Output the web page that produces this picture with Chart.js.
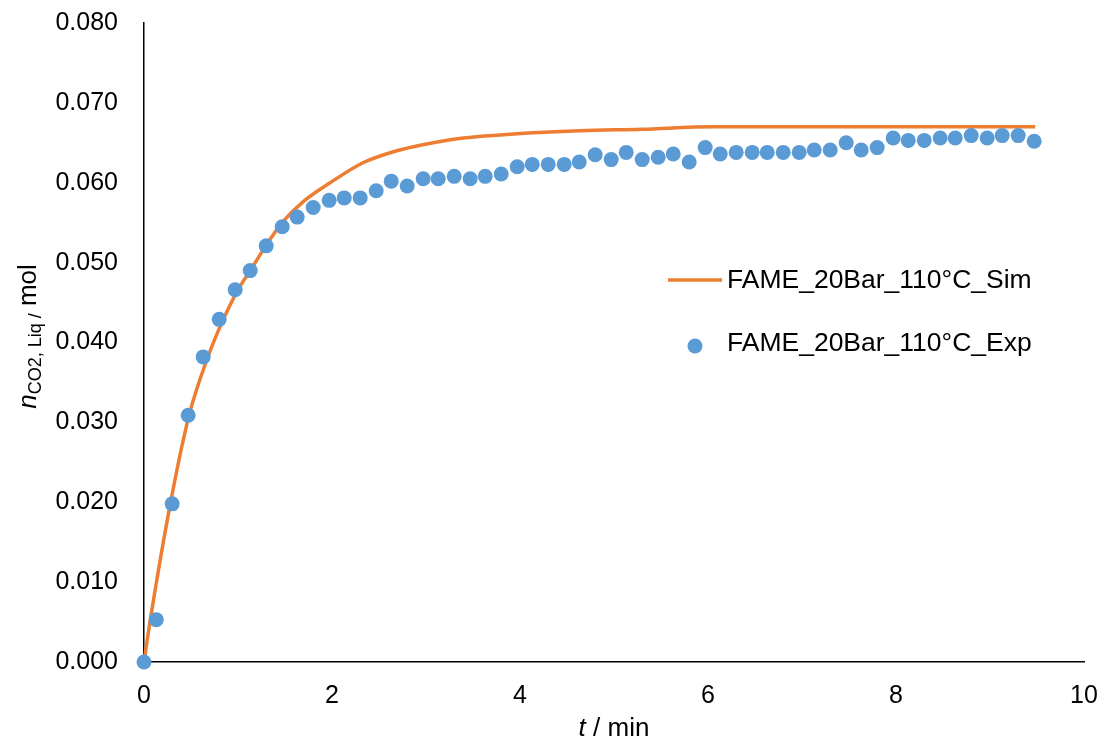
<!DOCTYPE html>
<html>
<head>
<meta charset="utf-8">
<script src="https://cdn.jsdelivr.net/npm/chart.js@4.4.1/dist/chart.umd.min.js"></script>
<style>
  html, body { margin: 0; padding: 0; background: #fff; }
  #wrap { width: 1104px; height: 743px; position: relative; }
</style>
</head>
<body>
<div id="wrap"><canvas id="c" width="1104" height="743"></canvas></div>
<script>
// ---- data ----
const expLabel = 'FAME_20Bar_110°C_Exp';
const simLabel = 'FAME_20Bar_110°C_Sim';

const expTime = [0, 0.13, 0.30, 0.47, 0.63, 0.80, 0.97, 1.13, 1.30, 1.47, 1.63, 1.80, 1.97, 2.13, 2.30, 2.47,
  2.63, 2.80, 2.97, 3.13, 3.30, 3.47, 3.63, 3.80, 3.97, 4.13, 4.30, 4.47, 4.63, 4.80, 4.97, 5.13, 5.30,
  5.47, 5.63, 5.80, 5.97, 6.13, 6.30, 6.47, 6.63, 6.80, 6.97, 7.13, 7.30, 7.47, 7.63, 7.80, 7.97, 8.13,
  8.30, 8.47, 8.63, 8.80, 8.97, 9.13, 9.30, 9.47];
const expMol = [0, 0.0053, 0.0198, 0.0309, 0.0382, 0.0429, 0.0466, 0.0490, 0.0521, 0.0545, 0.0557, 0.0569,
  0.0578, 0.0581, 0.0581, 0.0590, 0.0602, 0.0596, 0.0605, 0.0605, 0.0608, 0.0605, 0.0608, 0.0611, 0.0620,
  0.0623, 0.0623, 0.0623, 0.0626, 0.0635, 0.0629, 0.0638, 0.0629, 0.0632, 0.0636, 0.0626, 0.0644, 0.0636,
  0.0638, 0.0638, 0.0638, 0.0638, 0.0638, 0.0641, 0.0641, 0.0650, 0.0641, 0.0644, 0.0656, 0.0653, 0.0653,
  0.0656, 0.0656, 0.0659, 0.0656, 0.0659, 0.0659, 0.0652];

const simTime = [0, 0.07, 0.28, 0.48, 0.68, 0.84, 1.00, 1.13, 1.29, 1.47, 1.70, 1.98, 2.33, 2.69, 2.94,
  3.40, 3.93, 4.64, 5.30, 6.06, 7.00, 8.00, 9.00, 9.48];
const simMol = [0, 0.0055, 0.0198, 0.0309, 0.0382, 0.0428, 0.0466, 0.0490, 0.0520, 0.0550, 0.0577, 0.0600,
  0.0625, 0.0640, 0.0647, 0.0656, 0.0661, 0.0665, 0.0667, 0.0670, 0.0670, 0.0670, 0.0670, 0.0670];

const xTicks = [0, 2, 4, 6, 8, 10];
const yTicks = [0, 0.01, 0.02, 0.03, 0.04, 0.05, 0.06, 0.07, 0.08];

// ---- styles ----
const FONT = 'Liberation Sans, Arial, Helvetica, sans-serif';
const ORANGE = '#ED7D31';
const BLUE = '#5B9BD5';

const titlesPlugin = {
  id: 'titles',
  afterDraw(chart) {
    const ctx = chart.ctx;
    const a = chart.chartArea;
    ctx.save();
    ctx.fillStyle = '#000';
    ctx.textBaseline = 'alphabetic';
    // x-axis title: italic t + " / min"
    const main = '26px ' + FONT;
    const ital = 'italic 26px ' + FONT;
    ctx.font = ital; const wt = ctx.measureText('t').width;
    ctx.font = main; const wr = ctx.measureText(' / min').width;
    let x0 = (a.left + a.right) / 2 - (wt + wr) / 2;
    ctx.font = ital; ctx.textAlign = 'left'; ctx.fillText('t', x0, 736);
    ctx.font = main; ctx.fillText(' / min', x0 + wt, 736);

    // y-axis title: italic n, subscript "CO2, Liq /", " mol"
    const sub = '18px ' + FONT;
    ctx.font = ital; const wn = ctx.measureText('n').width;
    ctx.font = sub; const ws = ctx.measureText('CO2, Liq /').width;
    ctx.font = main; const wm = ctx.measureText(' mol').width;
    const total = wn + ws + wm;
    ctx.translate(36, (a.top + a.bottom) / 2 - 6);
    ctx.rotate(-Math.PI / 2);
    let p = -total / 2;
    ctx.font = ital; ctx.fillText('n', p, 0); p += wn;
    ctx.font = sub; ctx.fillText('CO2, Liq /', p, 5); p += ws;
    ctx.font = main; ctx.fillText(' mol', p, 0);
    ctx.restore();

    // legend
    ctx.save();
    const leg = '26.5px ' + FONT;
    ctx.font = leg;
    ctx.textAlign = 'left';
    ctx.textBaseline = 'middle';
    ctx.fillStyle = '#000';
    const tx = a.left + 583;
    const y1 = a.top + 257;
    const y2 = a.top + 320;
    ctx.strokeStyle = ORANGE; ctx.lineWidth = 3.5;
    ctx.beginPath(); ctx.moveTo(a.left + 524, y1); ctx.lineTo(a.left + 578, y1); ctx.stroke();
    ctx.fillText(chart.data.datasets[1].label, tx, y1 + 1);
    ctx.fillStyle = BLUE;
    ctx.beginPath(); ctx.arc(a.left + 551, y2 + 3, 7.5, 0, Math.PI * 2); ctx.fill();
    ctx.fillStyle = '#000';
    ctx.fillText(chart.data.datasets[0].label, tx, y2 + 1);
    ctx.restore();
  }
};

new Chart(document.getElementById('c'), {
  type: 'scatter',
  data: {
    datasets: [
      {
        label: expLabel,
        data: expTime.map((t, i) => ({ x: t, y: expMol[i] })),
        backgroundColor: BLUE,
        borderColor: BLUE,
        pointRadius: 7.5,
        pointBorderWidth: 0,
        showLine: false,
        clip: false,
        order: 0
      },
      {
        label: simLabel,
        data: simTime.map((t, i) => ({ x: t, y: simMol[i] })),
        borderColor: ORANGE,
        backgroundColor: ORANGE,
        borderWidth: 3.5,
        pointRadius: 0,
        showLine: true,
        cubicInterpolationMode: 'monotone',
        clip: false,
        order: 1
      }
    ]
  },
  options: {
    responsive: false,
    animation: false,
    devicePixelRatio: 1,
    layout: { padding: { left: 0, top: 23, right: 20, bottom: 0 } },
    plugins: { legend: { display: false }, tooltip: { enabled: false } },
    scales: {
      x: {
        type: 'linear',
        min: 0, max: 10,
        afterBuildTicks(scale) { scale.ticks = xTicks.map(v => ({ value: v })); },
        afterFit(scale) { scale.height = 81; scale.paddingLeft = 0; scale.paddingRight = 0; },
        grid: { display: false, drawTicks: false },
        border: { display: true, color: '#000', width: 1.5 },
        ticks: {
          color: '#000',
          padding: 19,
          font: { family: FONT, size: 25 },
          callback: v => String(v)
        }
      },
      y: {
        type: 'linear',
        min: 0, max: 0.08,
        afterBuildTicks(scale) { scale.ticks = yTicks.map(v => ({ value: v })); },
        afterFit(scale) { scale.width = 144; scale.paddingTop = 0; scale.paddingBottom = 0; },
        grid: { display: false, drawTicks: false },
        border: { display: true, color: '#000', width: 1.5 },
        ticks: {
          color: '#000',
          padding: 26,
          font: { family: FONT, size: 25 },
          callback: v => v.toFixed(3)
        }
      }
    }
  },
  plugins: [titlesPlugin]
});
</script>
</body>
</html>
